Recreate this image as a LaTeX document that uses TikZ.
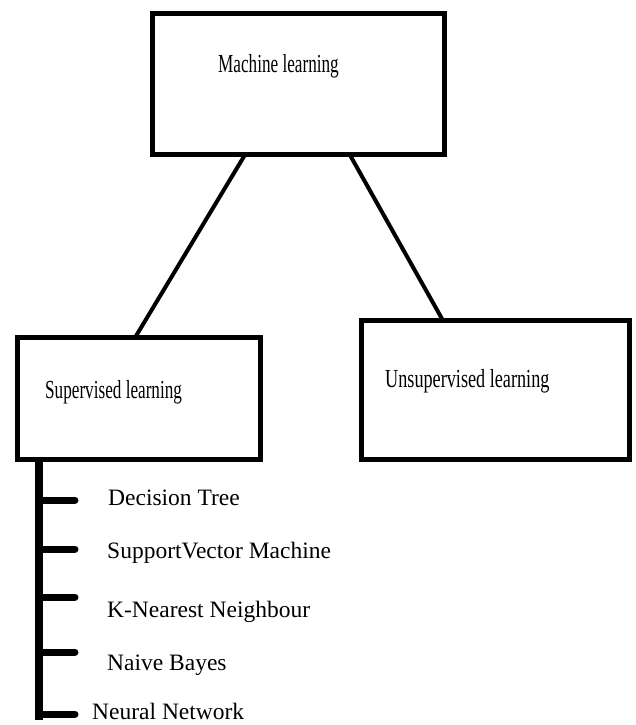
\documentclass[tikz,border=0pt]{standalone}
\usepackage{fontspec}
\setmainfont{Liberation Serif}
\usetikzlibrary{calc}
\begin{document}
\begin{tikzpicture}[x=1pt,y=-1pt,
  box/.style={draw,line width=5pt,outer sep=0pt,inner sep=0pt,rectangle},
  boxlabel/.style={anchor=base west,inner sep=0pt,font=\fontsize{26}{30}\selectfont},
  link/.style={line width=4pt},
  bar/.style={line width=8pt},
  tick/.style={line width=7pt,line cap=round},
  item/.style={anchor=base west,inner sep=0pt,font=\fontsize{23.5}{28}\selectfont}]
\useasboundingbox (0,0) rectangle (636,725);
% boxes
\node[box,minimum width=292pt,minimum height=140pt] (ml) at (298,84) {};
\node[box,minimum width=243pt,minimum height=122pt] (sl) at (139,398.5) {};
\node[box,minimum width=268pt,minimum height=139pt] (ul) at (495.5,390) {};
% labels
\node[boxlabel] (mlt) at (218,72) {\scalebox{0.66}[1]{Machine learning}};
\node[boxlabel] (slt) at (45,398) {\scalebox{0.66}[1]{Supervised learning}};
\node[boxlabel] (ult) at (385,387) {\scalebox{0.7}[1]{Unsupervised learning}};
% connectors
\draw[link] ($(ml.south west)!0.32!(ml.south east)$) -- ($(sl.north west)!0.484!(sl.north east)$);
\draw[link] ($(ml.south west)!0.676!(ml.south east)$) -- ($(ul.north west)!0.304!(ul.north east)$);
% list bar
\coordinate (bt) at ($(sl.south west)+(21.5,0)$);
\coordinate (bb) at (39,720);
\draw[bar] (bt) -- (bb);
% list items
\coordinate (t1) at (39,500);
\coordinate (t2) at (39,549);
\coordinate (t3) at (39,597);
\coordinate (t4) at (39,652);
\coordinate (t5) at (39,714);
\foreach \i in {1,...,5} {\draw[tick] (t\i) -- ++(36,0);}
\node[item] (i1) at (108,505) {Decision Tree};
\node[item] (i2) at (107,558) {SupportVector Machine};
\node[item] (i3) at (107,617) {K-Nearest Neighbour};
\node[item] (i4) at (107,670) {Naive Bayes};
\node[item] (i5) at (92,719) {Neural Network};
\end{tikzpicture}
\end{document}
